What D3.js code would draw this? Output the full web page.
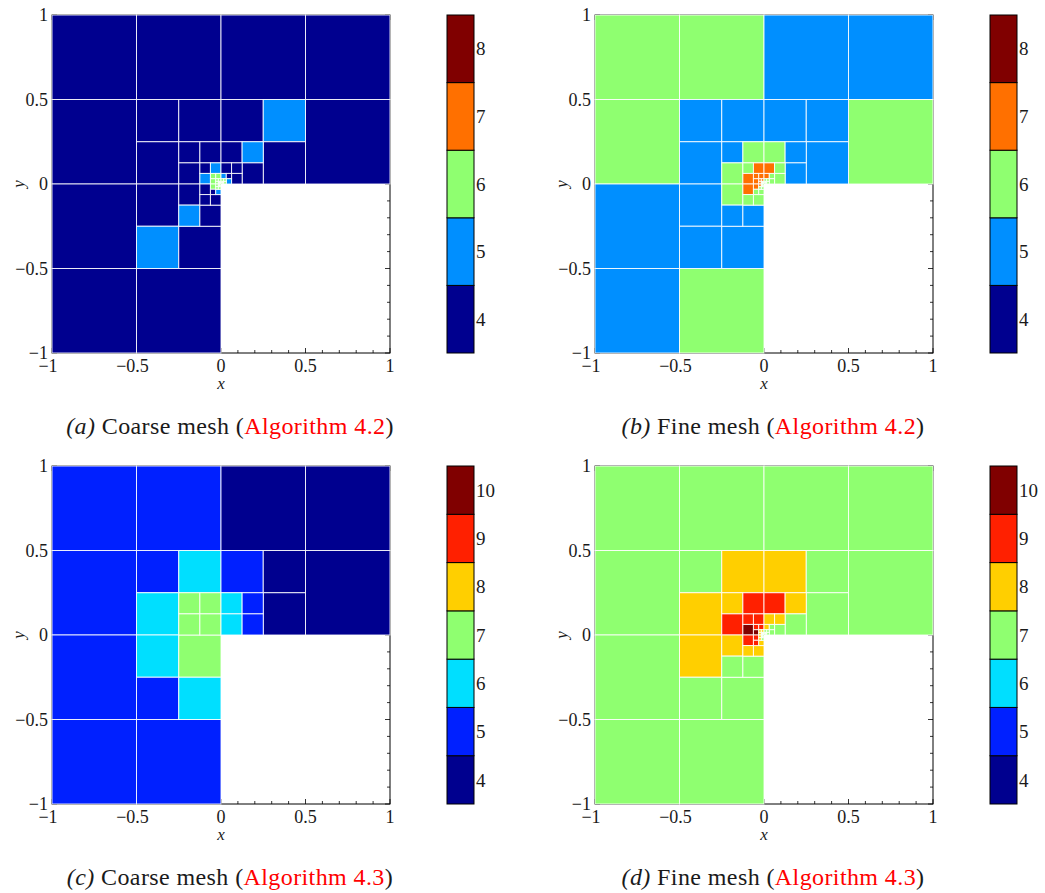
<!DOCTYPE html>
<html><head><meta charset="utf-8">
<script src="https://cdn.jsdelivr.net/npm/d3@7"></script>
<style>
body{margin:0;background:#fff}
svg{display:block}
text{font-family:"Liberation Serif","DejaVu Serif",serif;fill:#1a1a1a}
</style>
</head><body>
<script>
// Polynomial degree per element on the L-shaped domain, one list per mesh.
// Each cell: [x0, y0, h, degree] with (x0, y0) the lower-left corner and h the side.
const meshA = [
  [-1, 0.5, 0.5, 4], [-0.5, 0.5, 0.5, 4], [0, 0.5, 0.5, 4], [0.5, 0.5, 0.5, 4],
  [-1, 0, 0.5, 4], [0.5, 0, 0.5, 4], [-1, -0.5, 0.5, 4], [-1, -1, 0.5, 4], [-0.5, -1, 0.5, 4],
  [-0.5, 0.25, 0.25, 4], [-0.25, 0.25, 0.25, 4], [-0.5, 0, 0.25, 4],
  [0, 0.25, 0.25, 4], [0.25, 0.25, 0.25, 5], [0.25, 0, 0.25, 4],
  [-0.5, -0.25, 0.25, 4], [-0.5, -0.5, 0.25, 5], [-0.25, -0.5, 0.25, 4],
  [-0.25, 0.125, 0.125, 4], [-0.125, 0.125, 0.125, 4], [-0.25, 0, 0.125, 4],
  [0, 0.125, 0.125, 4], [0.125, 0.125, 0.125, 5], [0.125, 0, 0.125, 4],
  [-0.25, -0.125, 0.125, 4], [-0.25, -0.25, 0.125, 5], [-0.125, -0.25, 0.125, 4],
  [-0.125, 0.0625, 0.0625, 4], [-0.0625, 0.0625, 0.0625, 5], [-0.125, 0, 0.0625, 5],
  [0, 0.0625, 0.0625, 4], [0.0625, 0.0625, 0.0625, 4], [0.0625, 0, 0.0625, 4],
  [-0.125, -0.0625, 0.0625, 4], [-0.125, -0.125, 0.0625, 4], [-0.0625, -0.125, 0.0625, 4],
  [-0.0625, 0.03125, 0.03125, 6], [-0.03125, 0.03125, 0.03125, 6], [-0.0625, 0, 0.03125, 6],
  [0, 0.03125, 0.03125, 5], [0.03125, 0.03125, 0.03125, 4], [0.03125, 0, 0.03125, 5],
  [-0.0625, -0.03125, 0.03125, 6], [-0.0625, -0.0625, 0.03125, 4], [-0.03125, -0.0625, 0.03125, 5],
  [-0.03125, 0.015625, 0.015625, 6], [-0.015625, 0.015625, 0.015625, 6], [-0.03125, 0, 0.015625, 6],
  [0, 0.015625, 0.015625, 6], [0.015625, 0.015625, 0.015625, 6], [0.015625, 0, 0.015625, 6],
  [-0.03125, -0.015625, 0.015625, 6], [-0.03125, -0.03125, 0.015625, 6], [-0.015625, -0.03125, 0.015625, 6],
  [-0.015625, 0.0078125, 0.0078125, 6], [-0.0078125, 0.0078125, 0.0078125, 6], [-0.015625, 0, 0.0078125, 6],
  [0, 0.0078125, 0.0078125, 6], [0.0078125, 0.0078125, 0.0078125, 6], [0.0078125, 0, 0.0078125, 6],
  [-0.015625, -0.0078125, 0.0078125, 6], [-0.015625, -0.015625, 0.0078125, 6], [-0.0078125, -0.015625, 0.0078125, 6],
  [-0.0078125, 0, 0.0078125, 6], [0, 0, 0.0078125, 6], [-0.0078125, -0.0078125, 0.0078125, 6]
];

const meshB = [
  [-1, 0.5, 0.5, 6], [-0.5, 0.5, 0.5, 6], [0, 0.5, 0.5, 5], [0.5, 0.5, 0.5, 5],
  [-1, 0, 0.5, 6], [0.5, 0, 0.5, 6], [-1, -0.5, 0.5, 5], [-1, -1, 0.5, 5], [-0.5, -1, 0.5, 6],
  [-0.5, 0.25, 0.25, 5], [-0.25, 0.25, 0.25, 5], [-0.5, 0, 0.25, 5],
  [0, 0.25, 0.25, 5], [0.25, 0.25, 0.25, 5], [0.25, 0, 0.25, 5],
  [-0.5, -0.25, 0.25, 5], [-0.5, -0.5, 0.25, 5], [-0.25, -0.5, 0.25, 5],
  [-0.25, 0.125, 0.125, 5], [-0.125, 0.125, 0.125, 6], [-0.25, 0, 0.125, 6],
  [0, 0.125, 0.125, 6], [0.125, 0.125, 0.125, 5], [0.125, 0, 0.125, 5],
  [-0.25, -0.125, 0.125, 6], [-0.25, -0.25, 0.125, 5], [-0.125, -0.25, 0.125, 5],
  [-0.125, 0.0625, 0.0625, 6], [-0.0625, 0.0625, 0.0625, 7], [-0.125, 0, 0.0625, 7],
  [0, 0.0625, 0.0625, 7], [0.0625, 0.0625, 0.0625, 6], [0.0625, 0, 0.0625, 6],
  [-0.125, -0.0625, 0.0625, 7], [-0.125, -0.125, 0.0625, 6], [-0.0625, -0.125, 0.0625, 6],
  [-0.0625, 0.03125, 0.03125, 7], [-0.03125, 0.03125, 0.03125, 7], [-0.0625, 0, 0.03125, 7],
  [0, 0.03125, 0.03125, 7], [0.03125, 0.03125, 0.03125, 6], [0.03125, 0, 0.03125, 6],
  [-0.0625, -0.03125, 0.03125, 7], [-0.0625, -0.0625, 0.03125, 6], [-0.03125, -0.0625, 0.03125, 6],
  [-0.03125, 0.015625, 0.015625, 7], [-0.015625, 0.015625, 0.015625, 7], [-0.03125, 0, 0.015625, 7],
  [0, 0.015625, 0.015625, 6], [0.015625, 0.015625, 0.015625, 6], [0.015625, 0, 0.015625, 6],
  [-0.03125, -0.015625, 0.015625, 7], [-0.03125, -0.03125, 0.015625, 6], [-0.015625, -0.03125, 0.015625, 6],
  [-0.015625, 0.0078125, 0.0078125, 6], [-0.0078125, 0.0078125, 0.0078125, 6], [-0.015625, 0, 0.0078125, 6],
  [0, 0.0078125, 0.0078125, 6], [0.0078125, 0.0078125, 0.0078125, 6], [0.0078125, 0, 0.0078125, 6],
  [-0.015625, -0.0078125, 0.0078125, 6], [-0.015625, -0.015625, 0.0078125, 6], [-0.0078125, -0.015625, 0.0078125, 6],
  [-0.0078125, 0, 0.0078125, 6], [0, 0, 0.0078125, 6], [-0.0078125, -0.0078125, 0.0078125, 6]
];

const meshC = [
  [-1, 0.5, 0.5, 5], [-0.5, 0.5, 0.5, 5], [0, 0.5, 0.5, 4], [0.5, 0.5, 0.5, 4],
  [-1, 0, 0.5, 5], [0.5, 0, 0.5, 4], [-1, -0.5, 0.5, 5], [-1, -1, 0.5, 5], [-0.5, -1, 0.5, 5],
  [-0.5, 0.25, 0.25, 5], [-0.25, 0.25, 0.25, 6], [-0.5, 0, 0.25, 6],
  [0, 0.25, 0.25, 5], [0.25, 0.25, 0.25, 4], [0.25, 0, 0.25, 4],
  [-0.5, -0.25, 0.25, 6], [-0.25, -0.25, 0.25, 7], [-0.5, -0.5, 0.25, 5], [-0.25, -0.5, 0.25, 6],
  [-0.25, 0.125, 0.125, 7], [-0.125, 0.125, 0.125, 7], [-0.25, 0, 0.125, 7], [-0.125, 0, 0.125, 7],
  [0, 0.125, 0.125, 6], [0.125, 0.125, 0.125, 5], [0, 0, 0.125, 6], [0.125, 0, 0.125, 5]
];

const meshD = [
  [-1, 0.5, 0.5, 7], [-0.5, 0.5, 0.5, 7], [0, 0.5, 0.5, 7], [0.5, 0.5, 0.5, 7],
  [-1, 0, 0.5, 7], [0.5, 0, 0.5, 7], [-1, -0.5, 0.5, 7], [-1, -1, 0.5, 7], [-0.5, -1, 0.5, 7],
  [-0.5, 0.25, 0.25, 7], [-0.25, 0.25, 0.25, 8], [-0.5, 0, 0.25, 8],
  [0, 0.25, 0.25, 8], [0.25, 0.25, 0.25, 7], [0.25, 0, 0.25, 7],
  [-0.5, -0.25, 0.25, 8], [-0.5, -0.5, 0.25, 7], [-0.25, -0.5, 0.25, 7],
  [-0.25, 0.125, 0.125, 8], [-0.125, 0.125, 0.125, 9], [-0.25, 0, 0.125, 9],
  [0, 0.125, 0.125, 9], [0.125, 0.125, 0.125, 8], [0.125, 0, 0.125, 7],
  [-0.25, -0.125, 0.125, 8], [-0.25, -0.25, 0.125, 7], [-0.125, -0.25, 0.125, 7],
  [-0.125, 0.0625, 0.0625, 9], [-0.0625, 0.0625, 0.0625, 9], [-0.125, 0, 0.0625, 10],
  [0, 0.0625, 0.0625, 8], [0.0625, 0.0625, 0.0625, 8], [0.0625, 0, 0.0625, 7],
  [-0.125, -0.0625, 0.0625, 9], [-0.125, -0.125, 0.0625, 8], [-0.0625, -0.125, 0.0625, 8],
  [-0.0625, 0.03125, 0.03125, 9], [-0.03125, 0.03125, 0.03125, 9], [-0.0625, 0, 0.03125, 10],
  [0, 0.03125, 0.03125, 8], [0.03125, 0.03125, 0.03125, 7], [0.03125, 0, 0.03125, 7],
  [-0.0625, -0.03125, 0.03125, 9], [-0.0625, -0.0625, 0.03125, 9], [-0.03125, -0.0625, 0.03125, 8],
  [-0.03125, 0.015625, 0.015625, 8], [-0.015625, 0.015625, 0.015625, 8], [-0.03125, 0, 0.015625, 8],
  [0, 0.015625, 0.015625, 7], [0.015625, 0.015625, 0.015625, 7], [0.015625, 0, 0.015625, 7],
  [-0.03125, -0.015625, 0.015625, 8], [-0.03125, -0.03125, 0.015625, 8], [-0.015625, -0.03125, 0.015625, 7],
  [-0.015625, 0.0078125, 0.0078125, 7], [-0.0078125, 0.0078125, 0.0078125, 7], [-0.015625, 0, 0.0078125, 7],
  [0, 0.0078125, 0.0078125, 7], [0.0078125, 0.0078125, 0.0078125, 7], [0.0078125, 0, 0.0078125, 7],
  [-0.015625, -0.0078125, 0.0078125, 7], [-0.015625, -0.015625, 0.0078125, 7], [-0.0078125, -0.015625, 0.0078125, 7],
  [-0.0078125, 0, 0.0078125, 7], [0, 0, 0.0078125, 7], [-0.0078125, -0.0078125, 0.0078125, 7]
];

// Colour bars: degree values and their jet-style colours
const degreesAB = [4, 5, 6, 7, 8];
const coloursAB = ["#00008f", "#008fff", "#8fff70", "#ff7000", "#800000"];
const degreesCD = [4, 5, 6, 7, 8, 9, 10];
const coloursCD = ["#00008f", "#0020ff", "#00dfff", "#8fff70", "#ffcf00", "#ff2000", "#800000"];

// Axis ticks
const majorTicks = [-1, -0.5, 0, 0.5, 1];
const tickText = ["\u22121", "\u22120.5", "0", "0.5", "1"];
const minorTicks = d3.range(-10, 11).map(i => i / 10);

// Captions
const captionTags = ["(a)", "(b)", "(c)", "(d)"];
const captionNames = ["Coarse mesh", "Fine mesh", "Coarse mesh", "Fine mesh"];
const captionRefs = ["Algorithm 4.2", "Algorithm 4.2", "Algorithm 4.3", "Algorithm 4.3"];

const W = 1045, H = 893, SIDE = 338;
const svg = d3.select("body").append("svg").attr("width", W).attr("height", H);

const layout = [
  {left: 52, top: 15, cbLeft: 447, mesh: meshA, deg: degreesAB, col: coloursAB},
  {left: 595, top: 15, cbLeft: 990, mesh: meshB, deg: degreesAB, col: coloursAB},
  {left: 52, top: 466, cbLeft: 447, mesh: meshC, deg: degreesCD, col: coloursCD},
  {left: 595, top: 466, cbLeft: 990, mesh: meshD, deg: degreesCD, col: coloursCD}
];

layout.forEach((P, k) => {
  const x = d3.scaleLinear().domain([-1, 1]).range([P.left, P.left + SIDE]);
  const y = d3.scaleLinear().domain([-1, 1]).range([P.top + SIDE, P.top]);
  const colour = d3.scaleOrdinal().domain(P.deg).range(P.col);
  const g = svg.append("g");

  // axes box
  g.append("rect")
    .attr("x", x(-1)).attr("y", y(1))
    .attr("width", x(1) - x(-1)).attr("height", y(-1) - y(1))
    .attr("fill", "none").attr("stroke", "#000").attr("stroke-width", 1);

  // inward ticks on all four sides
  const tk = g.append("g").attr("stroke", "#000").attr("stroke-width", 0.8);
  minorTicks.forEach(v => {
    const len = majorTicks.includes(v) ? 5 : 3;
    tk.append("line").attr("x1", x(v)).attr("x2", x(v)).attr("y1", y(-1)).attr("y2", y(-1) - len);
    tk.append("line").attr("x1", x(v)).attr("x2", x(v)).attr("y1", y(1)).attr("y2", y(1) + len);
    tk.append("line").attr("y1", y(v)).attr("y2", y(v)).attr("x1", x(-1)).attr("x2", x(-1) + len);
    tk.append("line").attr("y1", y(v)).attr("y2", y(v)).attr("x1", x(1)).attr("x2", x(1) - len);
  });

  // mesh elements
  g.append("g").selectAll("rect").data(P.mesh).join("rect")
    .attr("x", d => x(d[0]))
    .attr("y", d => y(d[1] + d[2]))
    .attr("width", d => x(d[0] + d[2]) - x(d[0]))
    .attr("height", d => y(d[1]) - y(d[1] + d[2]))
    .attr("fill", d => colour(d[3]))
    .attr("stroke", "#fff").attr("stroke-opacity", 0.85).attr("stroke-width", 1);

  // tick labels (the minus sign hangs to the left of the centred digits)
  g.append("g").selectAll("text").data(majorTicks).join("text")
    .attr("x", d => x(d) - (d < 0 ? 4 : 0)).attr("y", y(-1) + 19)
    .attr("text-anchor", "middle").attr("font-size", 18)
    .text((d, i) => tickText[i]);
  g.append("g").selectAll("text").data(majorTicks).join("text")
    .attr("x", x(-1) - 4).attr("y", d => y(d)).attr("dy", "0.35em")
    .attr("text-anchor", "end").attr("font-size", 18)
    .text((d, i) => tickText[i]);

  // axis names
  g.append("text").attr("x", x(0)).attr("y", y(-1) + 36)
    .attr("text-anchor", "middle").attr("font-size", 17).attr("font-style", "italic").text("x");
  g.append("text")
    .attr("transform", `translate(${P.left - 28},${y(0)}) rotate(-90)`)
    .attr("text-anchor", "middle").attr("font-size", 17).attr("font-style", "italic").text("y");

  // colour bar
  const cb = d3.scaleBand().domain(P.deg.slice().reverse()).range([P.top, P.top + SIDE]);
  const cbg = g.append("g");
  cbg.selectAll("rect").data(P.deg).join("rect")
    .attr("x", P.cbLeft).attr("y", d => cb(d))
    .attr("width", 27).attr("height", cb.bandwidth())
    .attr("fill", d => colour(d))
    .attr("stroke", "#000").attr("stroke-width", 1);
  cbg.selectAll("text").data(P.deg).join("text")
    .attr("x", P.cbLeft + 29).attr("y", d => cb(d) + cb.bandwidth() / 2).attr("dy", "0.35em")
    .attr("font-size", 19).text(d => d);

  // caption
  const cap = g.append("text")
    .attr("x", P.left + 178).attr("y", P.top + SIDE + 81)
    .attr("text-anchor", "middle").attr("font-size", 24).attr("letter-spacing", 0.4);
  cap.append("tspan").attr("font-style", "italic").text(captionTags[k]);
  cap.append("tspan").text(" " + captionNames[k] + " (");
  cap.append("tspan").style("fill", "#ff0000").text(captionRefs[k]);
  cap.append("tspan").text(")");
});
</script>
</body></html>
